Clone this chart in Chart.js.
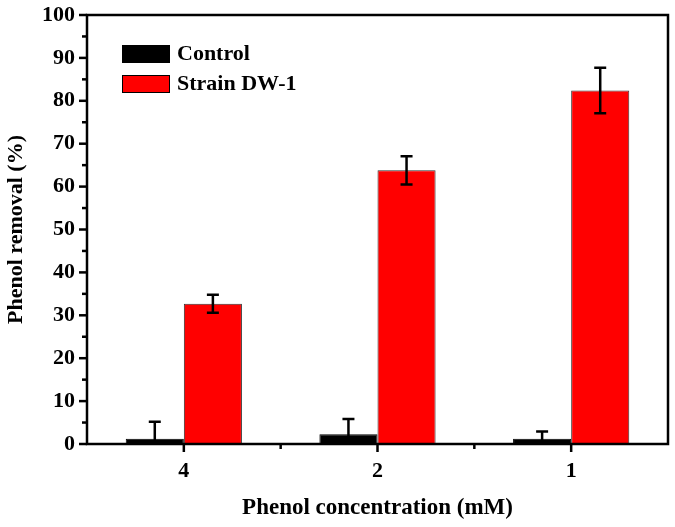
<!DOCTYPE html>
<html>
<head>
<meta charset="utf-8">
<script src="https://cdn.jsdelivr.net/npm/chart.js@4/dist/chart.umd.min.js"></script>
<style>
  html, body { margin: 0; padding: 0; background: #fff; }
  #wrap { width: 675px; height: 527px; }
</style>
</head>
<body>
<div id="wrap"><canvas id="myChart" width="675" height="527"></canvas></div>
<script>
// * data
const concentrations = ["4", "2", "1"];
const controlRemoval = [1.2, 2.3, 1.2];
const controlError = [4.0, 3.5, 1.7];
const strainRemoval = [32.7, 63.8, 82.4];
const strainError = [2.1, 3.3, 5.3];
const yTicks = [0, 10, 20, 30, 40, 50, 60, 70, 80, 90, 100];

const serif = "'Liberation Serif', 'Times New Roman', serif";

// * error bars, frame, ticks and legend drawn on top
const extras = {
  id: "extras",
  afterDatasetsDraw(chart) {
    const ctx = chart.ctx;
    const y = chart.scales.y;
    const area = chart.chartArea;
    ctx.save();
    ctx.strokeStyle = "#000";
    ctx.lineWidth = 2.5;
    chart.data.datasets.forEach((ds, di) => {
      const meta = chart.getDatasetMeta(di);
      meta.data.forEach((bar, i) => {
        const v = ds.data[i];
        const e = ds.errors[i];
        const top = y.getPixelForValue(v + e);
        const bottom = y.getPixelForValue(Math.max(v - e, 0));
        ctx.beginPath();
        ctx.moveTo(bar.x, top);
        ctx.lineTo(bar.x, bottom);
        ctx.moveTo(bar.x - 6, top);
        ctx.lineTo(bar.x + 6, top);
        if (v - e > 0) {
          ctx.moveTo(bar.x - 6, bottom);
          ctx.lineTo(bar.x + 6, bottom);
        }
        ctx.stroke();
      });
    });

    // frame
    ctx.lineWidth = 2.5;
    ctx.strokeRect(area.left, area.top, area.right - area.left, area.bottom - area.top);

    // y ticks (major + minor)
    for (let v = 0; v <= 100; v += 5) {
      const py = y.getPixelForValue(v);
      const len = v % 10 === 0 ? 8 : 5;
      ctx.beginPath();
      ctx.moveTo(area.left, py);
      ctx.lineTo(area.left - len, py);
      ctx.stroke();
    }
    // x ticks (major at categories, minor between)
    const x = chart.scales.x;
    for (let i = 0; i < concentrations.length; i++) {
      const px = x.getPixelForValue(i);
      ctx.beginPath();
      ctx.moveTo(px, area.bottom);
      ctx.lineTo(px, area.bottom + 8);
      ctx.stroke();
      if (i < concentrations.length - 1) {
        const mx = (px + x.getPixelForValue(i + 1)) / 2;
        ctx.beginPath();
        ctx.moveTo(mx, area.bottom);
        ctx.lineTo(mx, area.bottom + 5);
        ctx.stroke();
      }
    }

    // legend inside the plot
    ctx.font = "bold 22px " + serif;
    ctx.textBaseline = "middle";
    ctx.textAlign = "left";
    ctx.lineWidth = 1;
    chart.data.datasets.forEach((ds, di) => {
      const by = 45 + di * 30;
      ctx.fillStyle = ds.backgroundColor;
      ctx.fillRect(122, by, 48, 18);
      ctx.strokeStyle = "#000";
      ctx.strokeRect(122.5, by + 0.5, 47, 17);
      ctx.fillStyle = "#000";
      ctx.fillText(ds.label, 177, by + 9);
    });
    ctx.restore();
  },
};

const data = {
  labels: concentrations,
  datasets: [
    {
      label: "Control",
      data: controlRemoval,
      errors: controlError,
      backgroundColor: "#000000",
      borderColor: "#000000",
      borderWidth: 1,
    },
    {
      label: "Strain DW-1",
      data: strainRemoval,
      errors: strainError,
      backgroundColor: "#ff0000",
      borderColor: "#333333",
      borderWidth: 1,
    },
  ],
};

let config = {
  type: "bar",
  data: data,
  options: {
    responsive: false,
    animation: false,
    layout: { padding: { left: 0, top: 15, right: 7, bottom: 0 } },
    datasets: { bar: { categoryPercentage: 0.6, barPercentage: 1.0 } },
    plugins: {
      legend: { display: false },
      tooltip: { enabled: false },
    },
    scales: {
      x: {
        grid: { display: false, drawTicks: false },
        border: { display: false },
        ticks: { color: "#000", font: { family: serif, size: 22, weight: "bold" }, padding: 14 },
        title: {
          display: true,
          text: "Phenol concentration (mM)",
          color: "#000",
          font: { family: serif, size: 23, weight: "bold" },
          padding: { top: 10, bottom: 5 },
        },
        afterFit(s) { s.height = 83; s.paddingLeft = 0; s.paddingRight = 0; },
      },
      y: {
        min: 0,
        max: 100,
        afterBuildTicks(s) { s.ticks = yTicks.map((v) => ({ value: v })); },
        grid: { display: false, drawTicks: false },
        border: { display: false },
        ticks: { color: "#000", font: { family: serif, size: 22, weight: "bold" }, padding: 12 },
        title: {
          display: true,
          text: "Phenol removal (%)",
          color: "#000",
          font: { family: serif, size: 22, weight: "bold" },
          padding: { top: 3, bottom: 4 },
        },
        afterFit(s) { s.width = 87; s.paddingTop = 0; s.paddingBottom = 0; },
      },
    },
  },
  plugins: [extras],
};

let chart = new Chart("myChart", config);
</script>
</body>
</html>
